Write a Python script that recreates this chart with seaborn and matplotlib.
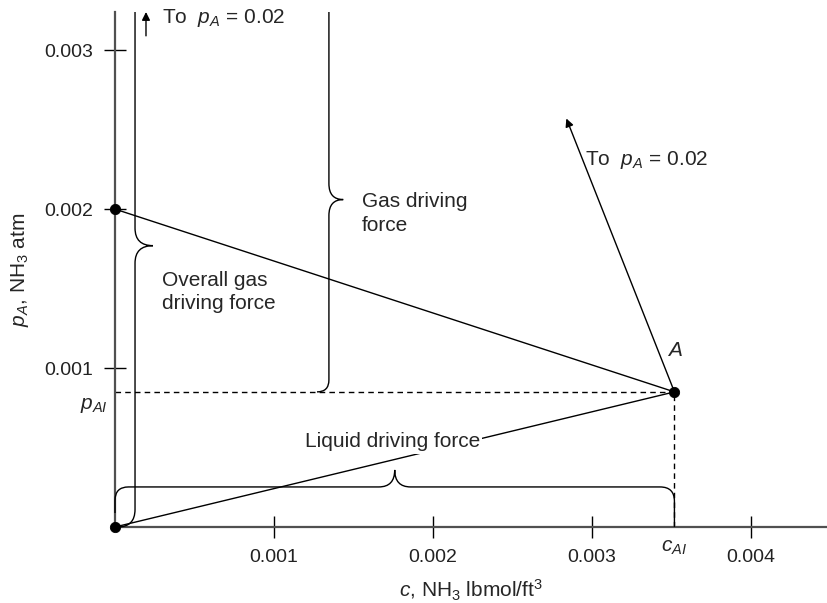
import matplotlib
matplotlib.use("Agg")
import matplotlib.pyplot as plt
from matplotlib.path import Path
from matplotlib.patches import PathPatch
import seaborn as sns

# values (c in lbmol/ft3, pA in atm)
point_c = [0.0, 0.0, 0.00352]        # liquid bulk, gas bulk, interface A
point_p = [0.0, 0.002, 0.00085]
c_AI = point_c[2]
p_AI = point_p[2]
arrow_to = (0.00284, 0.00257)        # direction "To pA = 0.02" from A
x_ticks = [0.001, 0.002, 0.003, 0.004]
y_ticks = [0.001, 0.002, 0.003]
x_lim = (0.0, 0.00448)
y_lim = (0.0, 0.00324)

sns.set_theme(style="ticks")
plt.rcParams['font.family'] = ['Liberation Sans', 'DejaVu Sans']
plt.rcParams['mathtext.fontset'] = 'custom'
plt.rcParams['mathtext.rm'] = 'Liberation Sans'
plt.rcParams['mathtext.it'] = 'Liberation Sans:italic'

FS = 14      # tick labels
FA = 15      # annotations and axis labels
AXC = '#505050'


def brace(ax, u0, u1, ut, v, tip, rt, curl0=None, curl1=None, vertical=True):
    # u runs along the brace, v across; curl = (length, radius)
    pts, codes = [], []
    if curl0:
        ln, r = curl0
        s = 1 if ln > 0 else -1
        pts += [(u0, v + ln), (u0, v + s * r), (u0, v), (u0 + r, v)]
        codes += [Path.MOVETO, Path.LINETO, Path.CURVE3, Path.CURVE3]
    else:
        pts += [(u0, v)]
        codes += [Path.MOVETO]
    pts += [(ut - rt, v), (ut, v), (ut, v + tip), (ut, v), (ut + rt, v)]
    codes += [Path.LINETO, Path.CURVE3, Path.CURVE3, Path.CURVE3, Path.CURVE3]
    if curl1:
        ln, r = curl1
        s = 1 if ln > 0 else -1
        pts += [(u1 - r, v), (u1, v), (u1, v + s * r), (u1, v + ln)]
        codes += [Path.LINETO, Path.CURVE3, Path.CURVE3, Path.LINETO]
    else:
        pts += [(u1, v)]
        codes += [Path.LINETO]
    if vertical:
        pts = [(b, a) for a, b in pts]
    ax.add_patch(PathPatch(Path(pts, codes), fill=False, ec='black', lw=1.0,
                           clip_on=False, zorder=3))


fig = plt.figure(figsize=(8.27, 6.03), dpi=100)
ax = fig.add_axes([115 / 827, 76 / 603, 712 / 827, 515 / 603])

# operating lines from gas bulk and liquid bulk to interface A
sns.lineplot(x=[point_c[1], c_AI], y=[point_p[1], p_AI], ax=ax, color='black',
             lw=1.0, sort=False, estimator=None, zorder=2)
sns.lineplot(x=[point_c[0], c_AI], y=[point_p[0], p_AI], ax=ax, color='black',
             lw=1.0, sort=False, estimator=None, zorder=2)
sns.scatterplot(x=point_c, y=point_p, ax=ax, color='black', s=55,
                edgecolor='black', zorder=6, clip_on=False)

# dashed projections of A
ax.plot([0, c_AI], [p_AI, p_AI], color='black', lw=1.0, ls=(0, (4, 3)), zorder=2)
ax.plot([c_AI, c_AI], [0, p_AI], color='black', lw=1.0, ls=(0, (4, 3)), zorder=2)

# arrows towards pA = 0.02
ax.annotate('', xy=arrow_to, xytext=(c_AI, p_AI),
            arrowprops=dict(arrowstyle='-|>', color='black', lw=1.0,
                            mutation_scale=12, shrinkA=0, shrinkB=0))
ax.text(0.00296, 0.00231, 'To  $p_A$ = 0.02', fontsize=FA, ha='left', va='center')
ax.annotate('', xy=(0.000195, y_lim[1]), xytext=(0.000195, 0.00309),
            arrowprops=dict(arrowstyle='-|>', color='black', lw=1.0,
                            mutation_scale=12, shrinkA=0, shrinkB=0),
            annotation_clip=False)
ax.text(0.000296, 0.00320, 'To  $p_A$ = 0.02', fontsize=FA, ha='left', va='center')

# braces
brace(ax, 0.0, y_lim[1], 0.00177, 0.000126, 0.000113, 0.00011,
      curl0=(-0.000126, 0.00011))
brace(ax, p_AI, y_lim[1], 0.00206, 0.001346, 0.00009, 0.0001,
      curl0=(-0.000075, 0.000075))
brace(ax, 0.0, c_AI, 0.00176, 0.000252, 0.000107, 0.0001,
      curl0=(-0.000164, 0.000085), curl1=(-0.000252, 0.00009), vertical=False)

ax.text(0.000296, 0.00148, 'Overall gas\ndriving force', fontsize=FA,
        ha='left', va='center', linespacing=1.25)
ax.text(0.001553, 0.00197, 'Gas driving\nforce', fontsize=FA, ha='left',
        va='center', linespacing=1.35)
ax.text(0.001195, 0.000535, 'Liquid driving force', fontsize=FA, ha='left',
        va='center', zorder=4,
        bbox=dict(facecolor='white', edgecolor='none', pad=1.5))
ax.text(c_AI, 0.00111, '$A$', fontsize=FA, ha='center', va='center')
ax.text(-0.000044, 0.000767, '$p_{AI}$', fontsize=FA, ha='right', va='center',
        clip_on=False)
ax.text(c_AI, -0.000132, '$c_{AI}$', fontsize=FA, ha='center', va='center',
        clip_on=False)

ax.set_xlim(*x_lim)
ax.set_ylim(*y_lim)
ax.set_xticks(x_ticks)
ax.set_yticks(y_ticks)
ax.set_xticklabels([f'{v:.3f}' for v in x_ticks])
ax.set_yticklabels([f'{v:.3f}' for v in y_ticks])
ax.tick_params(direction='inout', length=16, width=1.0, color='black',
               labelsize=FS, pad=8, labelcolor='#222222')
ax.set_xlabel('$c$, NH$_3$ lbmol/ft$^3$', fontsize=FA, labelpad=8)
ax.set_ylabel('$p_A$, NH$_3$ atm', fontsize=FA, labelpad=9)
for side in ['top', 'right']:
    ax.spines[side].set_visible(False)
for side in ['left', 'bottom']:
    ax.spines[side].set_color(AXC)
    ax.spines[side].set_linewidth(1.6)
ax.set_facecolor('white')

fig.savefig('out.png', dpi=100, facecolor='white')
